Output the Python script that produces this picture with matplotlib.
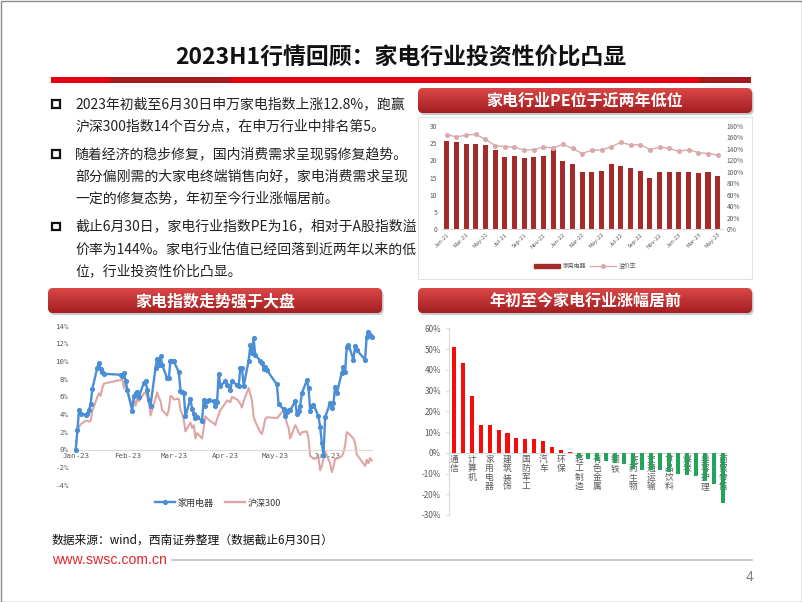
import matplotlib
matplotlib.use('Agg')
import matplotlib.pyplot as plt
import matplotlib.dates as mdates
from matplotlib.patches import Rectangle, FancyBboxPatch
from matplotlib.lines import Line2D
import numpy as np
import pandas as pd

plt.rcParams['font.family'] = ['Noto Sans CJK SC', 'DejaVu Sans']
plt.rcParams['axes.unicode_minus'] = False

# ---------------- data ----------------
title = '2023H1行情回顾：家电行业投资性价比凸显'
bullet_paragraphs = [
    ['2023年初截至6月30日申万家电指数上涨12.8%，跑赢',
     '沪深300指数14个百分点，在申万行业中排名第5。'],
    ['随着经济的稳步修复，国内消费需求呈现弱修复趋势。',
     '部分偏刚需的大家电终端销售向好，家电消费需求呈现',
     '一定的修复态势，年初至今行业涨幅居前。'],
    ['截止6月30日，家电行业指数PE为16，相对于A股指数溢',
     '价率为144%。家电行业估值已经回落到近两年以来的低',
     '位，行业投资性价比凸显。'],
]
box_titles = ['家电行业PE位于近两年低位', '家电指数走势强于大盘', '年初至今家电行业涨幅居前']

pe_months = ['Jan-21', 'Feb-21', 'Mar-21', 'Apr-21', 'May-21', 'Jun-21', 'Jul-21', 'Aug-21',
             'Sep-21', 'Oct-21', 'Nov-21', 'Dec-21', 'Jan-22', 'Feb-22', 'Mar-22', 'Apr-22',
             'May-22', 'Jun-22', 'Jul-22', 'Aug-22', 'Sep-22', 'Oct-22', 'Nov-22', 'Dec-22',
             'Jan-23', 'Feb-23', 'Mar-23', 'Apr-23', 'May-23']
pe_values = [25.7, 25.3, 24.7, 24.8, 24.6, 23.1, 21.0, 21.2, 20.7, 21.0, 21.3, 23.1, 19.7, 18.9,
             16.6, 16.6, 17.0, 19.0, 18.5, 17.7, 16.9, 14.8, 16.7, 16.7, 16.5, 16.7, 16.3, 16.5, 15.4]
pe_premium = [165, 161, 164, 165.5, 157, 146, 144, 143, 138, 139, 143, 142, 148, 141, 132, 138,
              138, 144, 151.5, 147, 147.5, 139, 143, 141, 136, 139, 133.5, 132, 129.5]
pe_series_names = ['家用电器', '溢价率']

idx_start, idx_end = '2023-01-03', '2023-06-30'
holidays = ['2023-01-23', '2023-01-24', '2023-01-25', '2023-01-26', '2023-01-27',
            '2023-04-05', '2023-05-01', '2023-05-02', '2023-05-03', '2023-06-22', '2023-06-23']
home_appliance = [
    0.0, 2.2, 4.5, 4.1, 4.0, 4.1, 4.5, 5.2, 6.9, 9.3, 9.8, 9.1, 8.8, 8.6, 8.5, 8.4,
    8.7, 7.8, 6.8, 4.4, 6.1, 6.4, 6.5, 6.0, 7.6, 7.8, 6.8, 5.6, 5.0, 9.3, 10.3, 9.6, 10.6, 9.6, 8.1, 8.1,
    10.1, 10.1, 10.0, 8.8, 6.7, 6.5, 6.4, 3.8, 5.8, 4.6, 4.1, 3.6, 3.7, 3.3, 5.7, 5.0, 5.5, 5.6, 5.5, 5.0,
    5.4, 8.6, 7.2,
    7.8, 7.3, 6.8, 7.8, 7.3, 7.2, 9.3, 9.3, 7.2, 10.1, 11.8, 11.0, 12.6, 10.7, 10.1, 9.8, 9.2, 9.4, 9.0,
    7.4, 5.2, 4.6, 3.8, 4.3, 4.5, 4.5, 5.5, 4.1, 4.4, 5.0, 6.4, 7.9, 7.0, 4.4, 5.0, 5.1, 3.8, 2.6, 0.8,
    -0.6, 3.7, 5.3, 4.7, 5.3, 7.1, 6.4, 8.7, 9.4, 8.8, 11.6, 11.9, 10.2, 11.7, 11.3, 10.2, 12.8, 13.3,
    13.0, 12.8]
hs300 = [
    0.0, 2.0, 2.6, 2.9, 3.3, 3.3, 3.2, 3.3, 4.4, 6.0, 6.4, 6.1, 7.0, 7.5, 7.9, 8.0,
    7.0, 7.8, 6.6, 5.0, 5.8, 5.0, 5.8, 5.5, 6.4, 6.5, 6.0, 5.4, 3.9, 5.8, 6.5, 5.9, 5.5, 4.5, 3.9, 4.6,
    6.1, 6.0, 5.7, 5.8, 4.5, 4.1, 3.4, 2.1, 3.1, 2.5, 2.8, 1.3, 1.9, 1.3, 2.5, 3.8, 3.6, 3.4, 3.0, 2.8,
    3.5, 4.0, 4.5,
    5.3, 5.6, 5.4, 6.0, 5.7, 5.5, 5.2, 4.8, 5.5, 7.0, 6.3, 5.6, 3.7, 3.2, 2.0, 1.8, 2.6, 3.5, 3.7,
    3.6, 3.8, 4.5, 3.8, 3.0, 2.5, 1.3, 2.8, 2.5, 2.0, 1.7, 2.0, 2.1, 1.3, -0.7, -0.8, -1.0, -0.9, -2.3, -1.8,
    -1.0, -0.2, -1.5, -2.5, -1.9, -1.0, -1.0, -0.7, -0.3, 0.5, 2.0, 1.9, 1.3, 0.8, -0.5, -1.8, -1.1, -1.5,
    -0.9, -1.2]
idx_series_names = ['家用电器', '沪深300']

industries = ['通信', '传媒', '计算机', '机械设备', '家用电器', '石油石化', '建筑装饰', '公用事业',
              '国防军工', '纺织服饰', '汽车', '银行', '环保', '电子', '轻工制造', '建筑材料',
              '有色金属', '非银金融', '钢铁', '基础化工', '医药生物', '农林牧渔', '交通运输',
              '电力设备', '食品饮料', '房地产', '煤炭', '综合', '美容护理', '社会服务', '商贸零售']
industry_ytd = [51.0, 43.3, 27.6, 13.5, 13.3, 10.9, 9.7, 7.1, 6.6, 6.6, 5.8, 3.0, 1.1, 0.5,
                -2.4, -3.2, -3.8, -3.9, -5.1, -5.4, -7.7, -8.1, -8.2, -8.5, -9.3, -10.4, -10.9,
                -11.4, -13.5, -15.0, -24.4]

source_text = '数据来源：wind，西南证券整理（数据截止6月30日）'
website = 'www.swsc.com.cn'
page_no = '4'

# ---------------- layout ----------------
W, H = 802, 602
fig = plt.figure(figsize=(W / 100, H / 100), dpi=100)
fig.patch.set_facecolor('white')


def ax_px(x0, y0, x1, y1):
    return fig.add_axes([x0 / W, 1 - y1 / H, (x1 - x0) / W, (y1 - y0) / H])


bg = fig.add_axes([0, 0, 1, 1])
bg.axis('off')
bg.patch.set_visible(False)

# outer frame
bg.add_patch(Rectangle((0.5, 0.5), W - 1, H - 1, fill=False, ec='#8C8C8C', lw=1.0))

# title + band
bg.text(401, 57, title, fontsize=16.5, fontweight='bold', ha='center', va='center', color='#111111')
bg.add_patch(Rectangle((51, 77), 700, 6, fc='#E60012', ec='none'))
bg.add_patch(Rectangle((110, 77), 120, 6, fc='#A5191D', ec='none'))
bg.add_patch(Rectangle((700, 77), 51, 6, fc='#A5191D', ec='none'))


def header_box(x0, y0, x1, y1, text):
    sh = FancyBboxPatch((x0 + 1.5, y0 + 2), x1 - x0, y1 - y0,
                        boxstyle='round,pad=0,rounding_size=5', fc='#000000', ec='none',
                        alpha=0.22, zorder=1)
    bg.add_patch(sh)
    p = FancyBboxPatch((x0, y0), x1 - x0, y1 - y0, boxstyle='round,pad=0,rounding_size=5',
                       fc='none', ec='none', zorder=2)
    bg.add_patch(p)
    g = np.linspace(0, 1, 60)[:, None, None]
    top = np.array([0.86, 0.28, 0.28])
    bot = np.array([0.64, 0.12, 0.13])
    img = top + (bot - top) * g
    im = bg.imshow(img, extent=[x0, x1, y1, y0], aspect='auto', zorder=2,
                   interpolation='bilinear')
    im.set_clip_path(p)
    bg.text((x0 + x1) / 2, (y0 + y1) / 2 + 0.5, text, color='white', fontsize=11.5,
            fontweight='bold', ha='center', va='center', zorder=3)


header_box(418, 88, 752, 113, box_titles[0])
header_box(48, 288, 382, 313, box_titles[1])
header_box(418, 288, 752, 313, box_titles[2])

# bullet text
line_y = [[104, 126.7], [154, 176.7, 198.3], [226.7, 249.3, 271.7]]
for para, ys in zip(bullet_paragraphs, line_y):
    bg.add_patch(Rectangle((52.3, ys[0] - 3.7), 7.4, 7.4, fill=False, ec='#111111', lw=1.6))
    for txt, yy in zip(para, ys):
        bg.text(75, yy, txt, fontsize=10, ha='left', va='center', color='#222222')

# PE chart panel frame
bg.add_patch(Rectangle((418, 117), 334, 162, fill=False, ec='#E4E4E4', lw=0.8))

# footer
bg.text(52, 540, source_text, fontsize=8.5, style='italic', ha='left', va='center', color='#111111')
bg.text(52, 560, website, fontsize=10.2, family='Liberation Sans', ha='left', va='center',
        color='#E3262B')
bg.plot([172, 752], [560, 560], color='#C0C0C0', lw=1.2)
bg.text(750, 577, page_no, fontsize=10, family='Liberation Sans', ha='center', va='center',
        color='#808080')

bg.set_xlim(0, W)
bg.set_ylim(H, 0)

gray_txt = '#595959'

# ---------------- PE chart ----------------
ax1 = ax_px(441.9, 126, 722.5, 229.3)
x = np.arange(len(pe_months))
bar_red = '#A52A2A'
line_pink = '#D9AAAB'
ax1.bar(x, pe_values, width=0.52, color=bar_red, zorder=2)
ax1.set_xlim(-0.5, len(pe_months) - 0.5)
ax1.set_ylim(0, 30)
ax1.set_yticks(np.arange(0, 31, 5))
ax1.set_xticks(x[::2])
ax1.set_xticklabels(pe_months[::2], rotation=45, ha='right', va='top', rotation_mode='anchor')
ax1.tick_params(axis='x', length=0, pad=2, labelsize=4.2, labelcolor=gray_txt)
ax1.tick_params(axis='y', length=0, pad=3.5, labelsize=4.8, labelcolor=gray_txt)
for s in ['top', 'right', 'left']:
    ax1.spines[s].set_visible(False)
ax1.spines['bottom'].set_color('#D9D9D9')
ax1.patch.set_visible(False)
ax1r = ax1.twinx()
ax1r.plot(x, pe_premium, color=line_pink, lw=1.0, marker='o', ms=2.6, zorder=3)
ax1r.set_ylim(0, 180)
ax1r.set_yticks(np.arange(0, 181, 20))
ax1r.yaxis.set_major_formatter(lambda v, p: f'{v:.0f}%')
ax1r.tick_params(axis='y', length=0, pad=3, labelsize=4.8, labelcolor=gray_txt)
for s in ['top', 'right', 'left', 'bottom']:
    ax1r.spines[s].set_visible(False)

fig.legend(handles=[Rectangle((0, 0), 1, 1, color=bar_red),
                    Line2D([], [], color=line_pink, lw=1.0, marker='o', ms=2.6)],
           labels=pe_series_names, loc='center', bbox_to_anchor=(585 / W, 1 - 266 / H),
           ncol=2, frameon=False, fontsize=4.2, handlelength=4.5, handleheight=0.6,
           columnspacing=0.6, handletextpad=0.4, labelcolor=gray_txt)

# ---------------- index line chart ----------------
trade_days = pd.bdate_range(idx_start, idx_end).difference(pd.to_datetime(holidays))
blue = '#4A8FD6'
pink = '#DDA6A6'
ax2 = ax_px(75.7, 326, 371.7, 485.4)
ax2.plot(trade_days, hs300, color=pink, lw=1.5, zorder=2, clip_on=False)
ax2.plot(trade_days, home_appliance, color=blue, lw=1.7, marker='o', ms=2.7, zorder=3,
         clip_on=False)
ax2.set_xlim(pd.Timestamp(idx_start), pd.Timestamp(idx_end))
ax2.set_ylim(-4, 14)
ax2.set_yticks(range(-4, 15, 2))
ax2.yaxis.set_major_formatter(lambda v, p: f'{v:.0f}%')
ax2.xaxis.set_major_locator(mdates.MonthLocator(bymonthday=3))
ax2.xaxis.set_major_formatter(mdates.DateFormatter('%b-%y'))
ax2.spines['bottom'].set_position(('data', 0))
ax2.spines['bottom'].set_color('#D9D9D9')
for s in ['top', 'right', 'left']:
    ax2.spines[s].set_visible(False)
ax2.tick_params(axis='both', length=0, labelsize=5.4, labelcolor=gray_txt,
                labelfontfamily='DejaVu Sans Mono')
ax2.tick_params(axis='x', pad=2)
ax2.tick_params(axis='y', pad=5)
ax2.patch.set_visible(False)

fig.legend(handles=[Line2D([], [], color=blue, lw=1.7, marker='o', ms=2.7),
                    Line2D([], [], color=pink, lw=1.7)],
           labels=idx_series_names, loc='center', bbox_to_anchor=(218 / W, 1 - 503 / H),
           ncol=2, frameon=False, fontsize=6.5, handlelength=2.2, columnspacing=1.3,
           handletextpad=0.3, labelcolor='#333333')

# ---------------- industry bar chart ----------------
ax3 = ax_px(449.2, 328.3, 727.2, 515)
xi = np.arange(len(industries))
cols = ['#F40D0D' if v >= 0 else '#22A55B' for v in industry_ytd]
ax3.bar(xi, industry_ytd, width=0.45, color=cols, zorder=3)
ax3.set_xlim(-0.5, len(industries) - 0.5)
ax3.set_ylim(-30, 60)
ax3.set_yticks(range(-30, 61, 10))
ax3.yaxis.set_major_formatter(lambda v, p: f'{v:.0f}%')
ax3.set_xticks([])
ax3.axhline(0, color='#D9D9D9', lw=0.8, zorder=2)
for s in ['top', 'right', 'bottom']:
    ax3.spines[s].set_visible(False)
ax3.spines['left'].set_color('#D9D9D9')
ax3.tick_params(axis='y', length=2, color='#D9D9D9', pad=4, labelsize=5.8, labelcolor=gray_txt)
ax3.patch.set_visible(False)
for i in range(0, len(industries), 2):
    ax3.text(i, -1.0, '\n'.join(industries[i]), ha='center', va='top', fontsize=6.3,
             linespacing=1.0, color=gray_txt, zorder=1)

fig.savefig('out.png', dpi=100)
